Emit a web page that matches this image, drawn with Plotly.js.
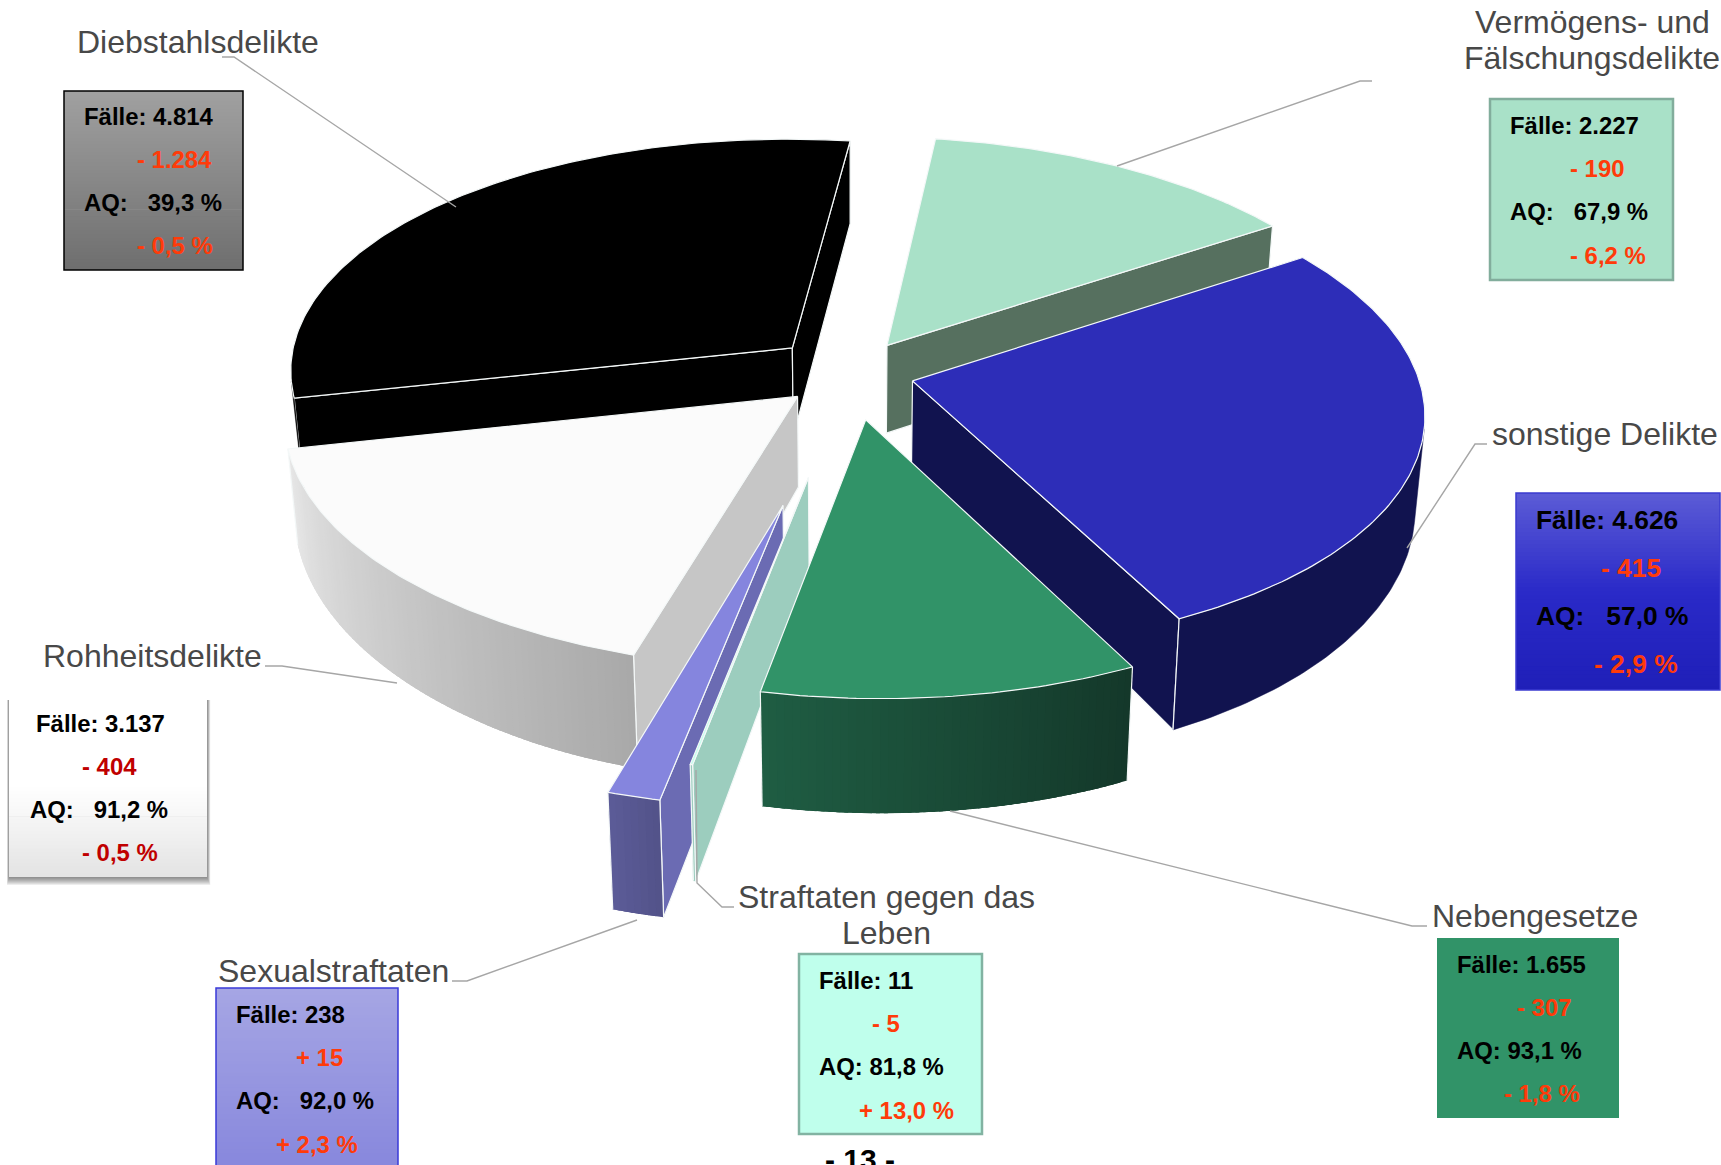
<!DOCTYPE html>
<html>
<head>
<meta charset="utf-8">
<script src="https://cdn.plot.ly/plotly-3.0.1.min.js"></script>
<style>html,body{margin:0;padding:0;background:#fff;overflow:hidden}#c{width:1721px;height:1165px}</style>
</head>
<body>
<div id="c"></div>
<script>
// ---- data (clockwise from the first slice) ----
const categories = ["Vermögens- und<br>Fälschungsdelikte","sonstige Delikte","Nebengesetze","Straftaten gegen das<br>Leben","Sexualstraftaten","Rohheitsdelikte","Diebstahlsdelikte"];
const faelle     = [2227, 4626, 1655, 11, 238, 3137, 4814];
const faelleText = ["2.227","4.626","1.655","11","238","3.137","4.814"];
const faelleDiff = ["- 190","- 415","- 307","- 5","+ 15","- 404","- 1.284"];
const aqText     = ["67,9 %","57,0 %","93,1 %","81,8 %","92,0 %","91,2 %","39,3 %"];
const aqDiff     = ["- 6,2 %","- 2,9 %","- 1,8 %","+ 13,0 %","+ 2,3 %","- 0,5 %","- 0,5 %"];
const pageNumber = "- 13 -";

// ---- projection (3-D pie look) ----
const startAngle = 8, Cx = 851, Cy = 373, Rx = 505, Ry = 237, Skew = 12, T = 90, TFront = 17, persp = 0.11, perspZ = 0.017;
const explode = [0.14,0.125,0.195,0.43,0.545,0.145,0.157];
// small per-slice correction (degrees) of each slice's end boundary, as the picture draws them
const endTweak = [0.8,-1.8,0.7,0.7,0.7,-6.5,0];
const rad = d => d*Math.PI/180;
function proj(X,Y,bottom){
  const s = 1/(1+persp*Y+(bottom?perspZ:0));
  const t = T+TFront*Math.max(0,Math.min(1,-Y));
  return [Cx+s*(Rx*X-Skew*Y), Cy+s*(-Ry*Y+(bottom?t:0))];
}
// ---- styles ----
const sliceStyle = [
 {top:"#A9E1C8",start:"#56705F",end:"#56705F",o1:"#56705F",o2:"#56705F"},
 {top:"#2D2DB8",start:"#11134F",end:"#11134F",o1:"#11134F",o2:"#11134F"},
 {top:"#319368",start:"#1F5D43",end:"#1F5D43",o1:"#14382A",o2:"#1F5D43"},
 {top:"#BFFFEC",start:"#9CCDBE",end:"#9CCDBE",o1:"#9CCDBE",o2:"#9CCDBE"},
 {top:"#8585DE",start:"#6B6BB3",end:"#6B6BB3",o1:"#525289",o2:"#5C5C98"},
 {top:"#FBFBFB",start:"#C6C6C6",end:"#C6C6C6",o1:"#A9A9A9",o2:"#E8E8E8"},
 {top:"#000000",start:"#000000",end:"#000000",o1:"#000000",o2:"#000000"}
];
const drawOrder = [6,0,1,5,4,3,2];
const hex = c=>[1,3,5].map(i=>parseInt(c.substr(i,2),16));
const mix = (a,b,t)=>{const A=hex(a),B=hex(b);return "rgb("+A.map((v,i)=>Math.round(v+(B[i]-v)*t)).join(",")+")";};
const area = p=>{let s=0;for(let i=0;i<p.length;i++){const q=p[(i+1)%p.length];s+=p[i][0]*q[1]-q[0]*p[i][1];}return s;};

const total = faelle.reduce((a,b)=>a+b,0);
let acc = startAngle;
const spans = faelle.map((v,i)=>{const a=acc+(i?endTweak[i-1]:0); acc+=v/total*360; return [a,acc+endTweak[i]];});
const traces = [];
function poly(pts,fill,line,w){
  const xs=pts.map(p=>p[0]),ys=pts.map(p=>p[1]);
  xs.push(xs[0]);ys.push(ys[0]);
  traces.push({type:"scatter",mode:"lines",x:xs,y:ys,fill:"toself",fillcolor:fill,line:{color:line,width:w},hoverinfo:"skip",showlegend:false});
}
const EDGE="#F4F8F8";
drawOrder.forEach(i=>{
  const [a,b]=spans[i], st=sliceStyle[i], m=rad((a+b)/2), e=explode[i];
  const ox=e*Math.sin(m), oy=e*Math.cos(m);
  const P=(d,bot)=>proj(ox+Math.sin(rad(d)),oy+Math.cos(rad(d)),bot);
  const A=bot=>proj(ox,oy,bot);
  const sw=[A(false),P(a,false),P(a,true),A(true)];
  const ew=[A(false),P(b,false),P(b,true),A(true)];
  if(area(sw)<0) poly(sw,st.start,EDGE,1.2);
  if(area(ew)>0) poly(ew,st.end,EDGE,1.2);
  const n=Math.max(2,Math.ceil((b-a)/0.8));
  const step=(b-a)/n;
  const vis=[];
  for(let k=0;k<n;k++){
    const d1=a+step*k,d2=a+step*(k+1);
    if(area([P(d1,false),P(d2,false),P(d2,true),P(d1,true)])<0) vis.push(k);
  }
  if(vis.length){
    const kLo=vis[0],kHi=vis[vis.length-1];
    if(st.o1===st.o2){
      const up=[],dn=[];
      for(let k=kLo;k<=kHi+1;k++){up.push(P(a+step*k,false));dn.unshift(P(a+step*k,true));}
      poly(up.concat(dn),st.o1,st.o1,0.5);
    } else {
      for(let k=kLo;k<=kHi;k++){
        const d1=a+step*k,d2=Math.min(a+step*(kHi+1),a+step*(k+2.5));
        const c=mix(st.o1,st.o2,(k+.5)/n);
        const q=[];
        for(let j=0;j<=2;j++)q.push(P(d1+(d2-d1)*j/2,false));
        for(let j=2;j>=0;j--)q.push(P(d1+(d2-d1)*j/2,true));
        poly(q,c,"rgba(0,0,0,0)",0);
      }
    }
  }
  const top=[A(false)];
  for(let k=0;k<=n;k++)top.push(P(a+step*k,false));
  poly(top,st.top,EDGE,1.2);
  // corner edges of the outer wall (the black slice shows none)
  if(i!==6) [a,b].forEach(d=>{
    const c0=P(d,false),c1=P(d,true);
    const w=[P(d-1,false),P(d+1,false),P(d+1,true),P(d-1,true)];
    if(area(w)<0) traces.push({type:"scatter",mode:"lines",x:[c0[0],c1[0]],y:[c0[1],c1[1]],line:{color:EDGE,width:1.2},hoverinfo:"skip",showlegend:false});
  });
});

// ---- leader lines ----
const leaders=[
 [[1372,81],[1360,81],[1117,166]],
 [[1487,444],[1475,444],[1407,548]],
 [[1427,926],[1412,926],[950,811]],
 [[734,907],[722,907],[697,883],[696,770]],
 [[452,981],[467,981],[637,920]],
 [[265,666],[282,666],[397,683]],
 [[222,57],[234,57],[456,207]]
];
leaders.forEach(l=>traces.push({type:"scatter",mode:"lines",x:l.map(p=>p[0]),y:l.map(p=>p[1]),line:{color:"#A6A6A6",width:1.4},hoverinfo:"skip",showlegend:false}));

// ---- boxes ----
const boxes=[
 {x0:1490,x1:1673,y0:99,y1:280,c:["#A9E1C8","#A9E1C8"],b:"#82AD9C",bw:2.5,ys:[125,168,211,255],xs:[1509,1569,1509,1569],fs:23.9},
 {x0:1516,x1:1720,y0:493,y1:690,c:["#5C5CD6","#2A2AC8","#1F1FB8"],b:"#3B3BD0",bw:1.5,ys:[520,568,616,664],xs:[1535,1600,1535,1593],fs:26.4},
 {x0:1437,x1:1619,y0:938,y1:1118,c:["#319368","#319368"],b:null,bw:0,ys:[964,1007,1050,1093],xs:[1456,1516,1456,1503],fs:23.9,tight:true},
 {x0:799,x1:982,y0:954,y1:1134,c:["#BFFFEC","#BFFFEC"],b:"#82B3A2",bw:2.5,ys:[980,1023,1066,1110],xs:[818,871,818,858],fs:23.9,tight:true},
 {x0:216,x1:398,y0:988,y1:1180,c:["#A6A6E4","#8585DC"],b:"#3A3AD8",bw:1.5,ys:[1014,1057,1100,1144],xs:[235,295,235,275],fs:23.9},
 {x0:9,x1:207,y0:698,y1:877,c:["#FFFFFF","#FFFFFF","#E3E3E3"],b:null,bw:0,ys:[723,766,809,852],xs:[35,81,29,81],fs:23.9,red:"#C00000",shadow:true},
 {x0:64,x1:243,y0:91,y1:270,c:["#A0A0A0","#6E6E6E"],b:"#000000",bw:1.5,ys:[116,159,202,245],xs:[83,136,83,136],fs:23.9}
];
const shapes=[];
const annotations=[];
function gradient(c,t){const n=c.length-1,k=Math.min(n-1,Math.floor(t*n));return mix(c[k],c[k+1],t*n-k);}
boxes.forEach((B,i)=>{
  if(B.shadow){
    for(let k=8;k>=1;k--) shapes.push({type:"rect",xref:"x",yref:"y",x0:B.x0-k*.25,x1:B.x1+k*.4,y0:B.y0+2,y1:B.y1+k*1.0,fillcolor:"rgba(50,50,50,0.085)",line:{width:0}});
  }
  const n=B.c[0]===B.c[B.c.length-1]?1:50;
  for(let k=0;k<n;k++){
    const col=n===1?B.c[0]:gradient(B.c,(k+.5)/n);
    shapes.push({type:"rect",xref:"x",yref:"y",x0:B.x0,x1:B.x1,y0:B.y0+(B.y1-B.y0)*k/n,y1:B.y0+(B.y1-B.y0)*Math.min(1,(k+1.2)/n),fillcolor:col,line:{width:0}});
  }
  if(B.b) shapes.push({type:"rect",xref:"x",yref:"y",x0:B.x0,x1:B.x1,y0:B.y0,y1:B.y1,fillcolor:"rgba(0,0,0,0)",line:{color:B.b,width:B.bw}});
  const gap=B.tight?" ":"\u00A0\u00A0\u00A0";
  const lines=["Fälle: "+faelleText[i],faelleDiff[i],"AQ:"+gap+aqText[i],aqDiff[i]];
  lines.forEach((t,k)=>annotations.push({xref:"x",yref:"y",x:B.xs[k],y:B.ys[k],xanchor:"left",yanchor:"middle",showarrow:false,text:"<b>"+t+"</b>",
    font:{family:"Liberation Sans, Arial, sans-serif",size:B.fs,color:k%2? (B.red||"#FF3B0A"):"#000000"},borderpad:0}));
});

// ---- category labels (y = centre of the first line) ----
const labelPos=[
 {x:1592,y:22,a:"center"},{x:1490,y:434,a:"left"},{x:1430,y:916,a:"left"},{x:886,y:897,a:"center"},
 {x:216,y:971,a:"left"},{x:41,y:656,a:"left"},{x:75,y:42,a:"left"}
];
const labelLine=36;
categories.forEach((t,i)=>t.split("<br>").forEach((part,j)=>annotations.push({xref:"x",yref:"y",x:labelPos[i].x,y:labelPos[i].y+j*labelLine,xanchor:labelPos[i].a,yanchor:"middle",showarrow:false,text:part,
  font:{family:"Liberation Sans, Arial, sans-serif",size:32,color:"#484848"}})));
annotations.push({xref:"x",yref:"y",x:860,y:1141,xanchor:"center",yanchor:"top",showarrow:false,text:"<b>"+pageNumber+"</b>",font:{family:"Liberation Sans, Arial, sans-serif",size:30,color:"#000"}});

const hidden={visible:false,fixedrange:true};
Plotly.newPlot("c",traces,{
  width:1721,height:1165,margin:{l:0,r:0,t:0,b:0},paper_bgcolor:"#fff",plot_bgcolor:"#fff",
  xaxis:Object.assign({range:[0,1721]},hidden),
  yaxis:Object.assign({range:[1165,0]},hidden),
  showlegend:false,shapes,annotations
},{displayModeBar:false,staticPlot:true});
</script>
</body>
</html>
